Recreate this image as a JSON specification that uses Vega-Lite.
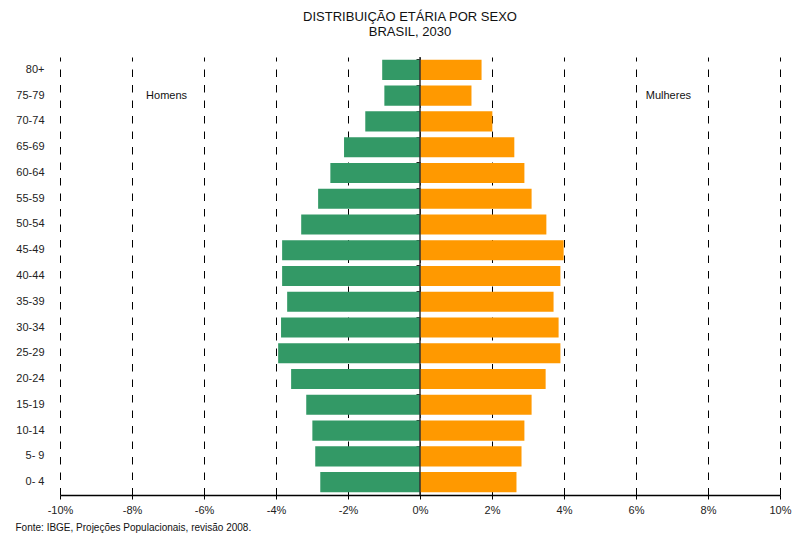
{
  "$schema": "https://vega.github.io/schema/vega-lite/v6.json",
  "width": 720,
  "height": 438,
  "autosize": {"type": "none"},
  "padding": {"left": 60, "top": 57, "right": 12, "bottom": 48},
  "background": "white",
  "config": {
    "font": "Liberation Sans",
    "view": {"stroke": null},
    "axis": {"labelFont": "Liberation Sans", "titleFont": "Liberation Sans"}
  },
  "title": {
    "text": ["DISTRIBUIÇÃO ETÁRIA POR SEXO", "BRASIL, 2030"],
    "fontSize": 13,
    "fontWeight": "normal",
    "color": "#111",
    "anchor": "middle",
    "frame": "group",
    "dx": -10,
    "offset": 17,
    "lineHeight": 15
  },
  "datasets": {
    "pop": [
      {"age": "80+", "sex": "Homens", "value": -1.05},
      {"age": "75-79", "sex": "Homens", "value": -0.99},
      {"age": "70-74", "sex": "Homens", "value": -1.52},
      {"age": "65-69", "sex": "Homens", "value": -2.11},
      {"age": "60-64", "sex": "Homens", "value": -2.49},
      {"age": "55-59", "sex": "Homens", "value": -2.83},
      {"age": "50-54", "sex": "Homens", "value": -3.30},
      {"age": "45-49", "sex": "Homens", "value": -3.83},
      {"age": "40-44", "sex": "Homens", "value": -3.83},
      {"age": "35-39", "sex": "Homens", "value": -3.69},
      {"age": "30-34", "sex": "Homens", "value": -3.86},
      {"age": "25-29", "sex": "Homens", "value": -3.94},
      {"age": "20-24", "sex": "Homens", "value": -3.58},
      {"age": "15-19", "sex": "Homens", "value": -3.16},
      {"age": "10-14", "sex": "Homens", "value": -2.99},
      {"age": "5- 9", "sex": "Homens", "value": -2.91},
      {"age": "0- 4", "sex": "Homens", "value": -2.77},
      {"age": "80+", "sex": "Mulheres", "value": 1.71},
      {"age": "75-79", "sex": "Mulheres", "value": 1.43},
      {"age": "70-74", "sex": "Mulheres", "value": 2.01},
      {"age": "65-69", "sex": "Mulheres", "value": 2.62},
      {"age": "60-64", "sex": "Mulheres", "value": 2.90},
      {"age": "55-59", "sex": "Mulheres", "value": 3.10},
      {"age": "50-54", "sex": "Mulheres", "value": 3.51},
      {"age": "45-49", "sex": "Mulheres", "value": 3.99},
      {"age": "40-44", "sex": "Mulheres", "value": 3.90},
      {"age": "35-39", "sex": "Mulheres", "value": 3.71},
      {"age": "30-34", "sex": "Mulheres", "value": 3.85},
      {"age": "25-29", "sex": "Mulheres", "value": 3.90},
      {"age": "20-24", "sex": "Mulheres", "value": 3.49},
      {"age": "15-19", "sex": "Mulheres", "value": 3.10},
      {"age": "10-14", "sex": "Mulheres", "value": 2.90},
      {"age": "5- 9", "sex": "Mulheres", "value": 2.82},
      {"age": "0- 4", "sex": "Mulheres", "value": 2.68}
    ],
    "one": [{"k": 1}]
  },
  "resolve": {"axis": {"y": "independent"}},
  "layer": [
    {
      "data": {"name": "pop"},
      "transform": [{"filter": "datum.sex === 'Homens'"}],
      "mark": {"type": "bar"},
      "encoding": {
        "y": {
          "field": "age", "type": "ordinal",
          "sort": ["80+", "75-79", "70-74", "65-69", "60-64", "55-59", "50-54", "45-49", "40-44", "35-39", "30-34", "25-29", "20-24", "15-19", "10-14", "5- 9", "0- 4"],
          "scale": {"paddingInner": 0.22, "paddingOuter": 0.11},
          "axis": {"title": null, "orient": "left", "domain": false, "ticks": false, "labelPadding": 16, "labelFontSize": 11, "labelColor": "#222"}
        },
        "x": {
          "field": "value", "type": "quantitative",
          "scale": {"domain": [-10, 10], "nice": false},
          "axis": {
            "values": [-10, -8, -6, -4, -2, 0, 2, 4, 6, 8, 10],
            "labelExpr": "datum.value + '%'",
            "labelFlush": false,
            "labelFontSize": 11, "labelColor": "#222", "labelPadding": 5,
            "domainColor": "#000", "domainWidth": 1.3,
            "tickColor": "#000", "tickSize": 4,
            "grid": true, "gridColor": "#000", "gridDash": [7.5, 8], "gridWidth": 1,
            "title": "Fonte: IBGE, Projeções  Populacionais, revisão 2008.",
            "titleFontSize": 10, "titleFontWeight": "normal", "titleColor": "#111",
            "titleAlign": "left", "titleAnchor": "start", "titleBaseline": "alphabetic",
            "titleX": -45, "titleY": 35
          }
        },
        "color": {
          "field": "sex", "type": "nominal",
          "scale": {"domain": ["Homens", "Mulheres"], "range": ["#339966", "#FF9900"]},
          "legend": null
        }
      }
    },
    {
      "data": {"name": "pop"},
      "transform": [{"filter": "datum.sex === 'Mulheres'"}],
      "mark": {"type": "bar"},
      "encoding": {
        "y": {
          "field": "age", "type": "ordinal",
          "sort": ["80+", "75-79", "70-74", "65-69", "60-64", "55-59", "50-54", "45-49", "40-44", "35-39", "30-34", "25-29", "20-24", "15-19", "10-14", "5- 9", "0- 4"],
          "axis": {"title": null, "orient": "left", "offset": -360, "labels": false, "domain": false, "ticks": true, "tickSize": 4, "tickColor": "#222", "bandPosition": 0, "grid": false}
        },
        "x": {"field": "value", "type": "quantitative"},
        "color": {"field": "sex", "type": "nominal", "legend": null}
      }
    },
    {
      "data": {"name": "one"},
      "mark": {"type": "rule", "color": "#333", "strokeWidth": 1.5},
      "encoding": {"x": {"datum": 0}}
    },
    {
      "data": {"name": "one"},
      "mark": {"type": "text", "fontSize": 11, "color": "#111", "align": "center", "baseline": "middle"},
      "encoding": {"x": {"datum": -7.04}, "y": {"datum": "75-79", "type": "ordinal", "axis": null}, "text": {"value": "Homens"}}
    },
    {
      "data": {"name": "one"},
      "mark": {"type": "text", "fontSize": 11, "color": "#111", "align": "center", "baseline": "middle"},
      "encoding": {"x": {"datum": 6.9}, "y": {"datum": "75-79", "type": "ordinal", "axis": null}, "text": {"value": "Mulheres"}}
    }
  ]
}
